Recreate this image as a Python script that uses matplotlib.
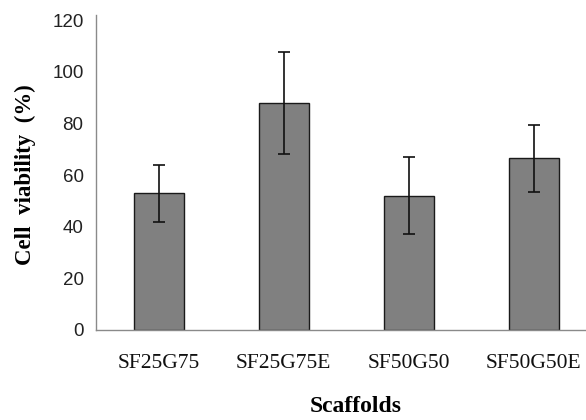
import matplotlib
matplotlib.use("Agg")
import matplotlib.pyplot as plt

categories = ["SF25G75", "SF25G75E", "SF50G50", "SF50G50E"]
viability = [53, 88, 52, 66.5]
errors = [11, 19.7, 15, 13]
yticks = [0, 20, 40, 60, 80, 100, 120]

fig = plt.figure(figsize=(5.86, 4.2), dpi=100)
W, H = 586, 420
left, right, top, bottom = 96, 586, 15, 330
ax = fig.add_axes([left / W, 1 - bottom / H, (right - left) / W, (bottom - top) / H])

x = list(range(len(categories)))
ax.bar(x, viability, width=0.4, color="#808080", edgecolor="#1a1a1a", linewidth=1.0, zorder=2)
ax.errorbar(x, viability, yerr=errors, fmt="none", ecolor="#111111", elinewidth=1.2,
            capsize=4, capthick=1.2, zorder=3)

ax.set_xlim(-0.5, 3.42)
ax.set_ylim(0, 122)
ax.set_yticks(yticks)
ax.set_yticklabels([str(v) for v in yticks], fontsize=13.5, color="#222222", family="Liberation Sans")
ax.set_xticks(x)
ax.set_xticklabels(categories, fontsize=15.5, family="Liberation Serif", color="#111111")
ax.tick_params(axis="y", length=0, pad=9)
ax.tick_params(axis="x", length=0, pad=17)

for s in ["top", "right"]:
    ax.spines[s].set_visible(False)
for s in ["left", "bottom"]:
    ax.spines[s].set_color("#8a8a8a")
    ax.spines[s].set_linewidth(1.0)

fig.text(356 / W, 1 - 407 / H, "Scaffolds", fontsize=17, fontweight="bold",
         family="Liberation Serif", ha="center", va="center")
fig.text(25 / W, 1 - 175 / H, "Cell  viability  (%)", fontsize=16.5, fontweight="bold",
         family="Liberation Serif", ha="center", va="center", rotation=90)

fig.savefig("out.png", dpi=100)
